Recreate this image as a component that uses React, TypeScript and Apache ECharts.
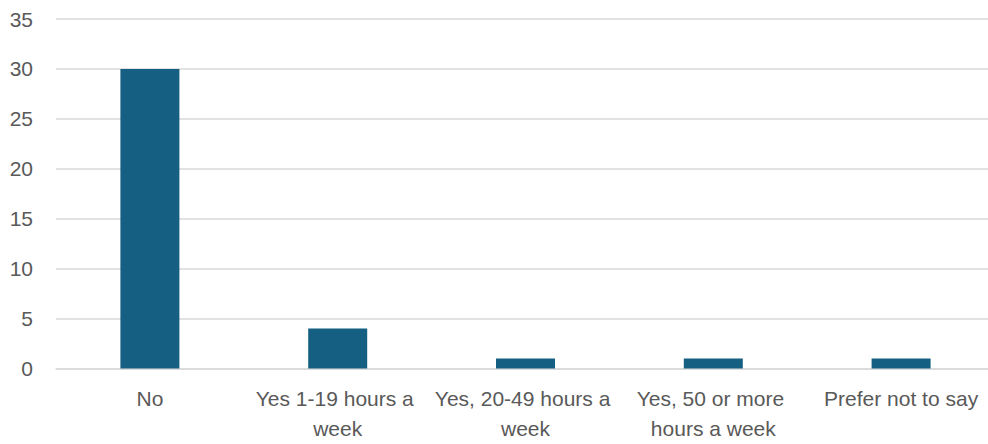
import React, { useEffect, useRef } from "react";
import * as echarts from "echarts";

const categories = [
  "No",
  "Yes 1-19 hours a week",
  "Yes, 20-49 hours a week",
  "Yes, 50 or more hours a week",
  "Prefer not to say",
];
const values = [30, 4, 1, 1, 1];
const yTicks = { min: 0, max: 35, interval: 5 };

export default function App() {
  const ref = useRef<HTMLDivElement>(null);
  useEffect(() => {
    if (!ref.current) return;
    const chart = echarts.init(ref.current, null, { renderer: "svg" });
    const font = "'Liberation Sans', Arial, sans-serif";
    chart.setOption({
      animation: false,
      backgroundColor: "#ffffff",
      grid: {
        left: 56,
        right: -7,
        top: 19,
        bottom: 75.5,
        containLabel: false,
        outerBoundsMode: "none",
      },
      xAxis: {
        type: "category",
        data: categories,
        axisLine: { show: true, lineStyle: { color: "#d9d9d9", width: 1.5 } },
        axisTick: { show: false },
        axisLabel: {
          color: "#595959",
          fontSize: 21,
          fontFamily: font,
          lineHeight: 30,
          margin: 15,
          interval: 0,
          width: 186,
          overflow: "break",
        },
      },
      yAxis: {
        type: "value",
        min: yTicks.min,
        max: yTicks.max,
        interval: yTicks.interval,
        axisLine: { show: false },
        axisTick: { show: false },
        splitLine: { lineStyle: { color: "#d9d9d9", width: 1.5 } },
        axisLabel: {
          color: "#595959",
          fontSize: 21,
          fontFamily: font,
          margin: 23,
        },
      },
      series: [
        {
          type: "bar",
          data: values,
          barWidth: 59,
          itemStyle: { color: "#156082" },
        },
      ],
    });
    return () => chart.dispose();
  }, []);
  return (
    <div
      ref={ref}
      style={{ position: "fixed", left: 0, top: 0, width: 988, height: 444 }}
    />
  );
}
